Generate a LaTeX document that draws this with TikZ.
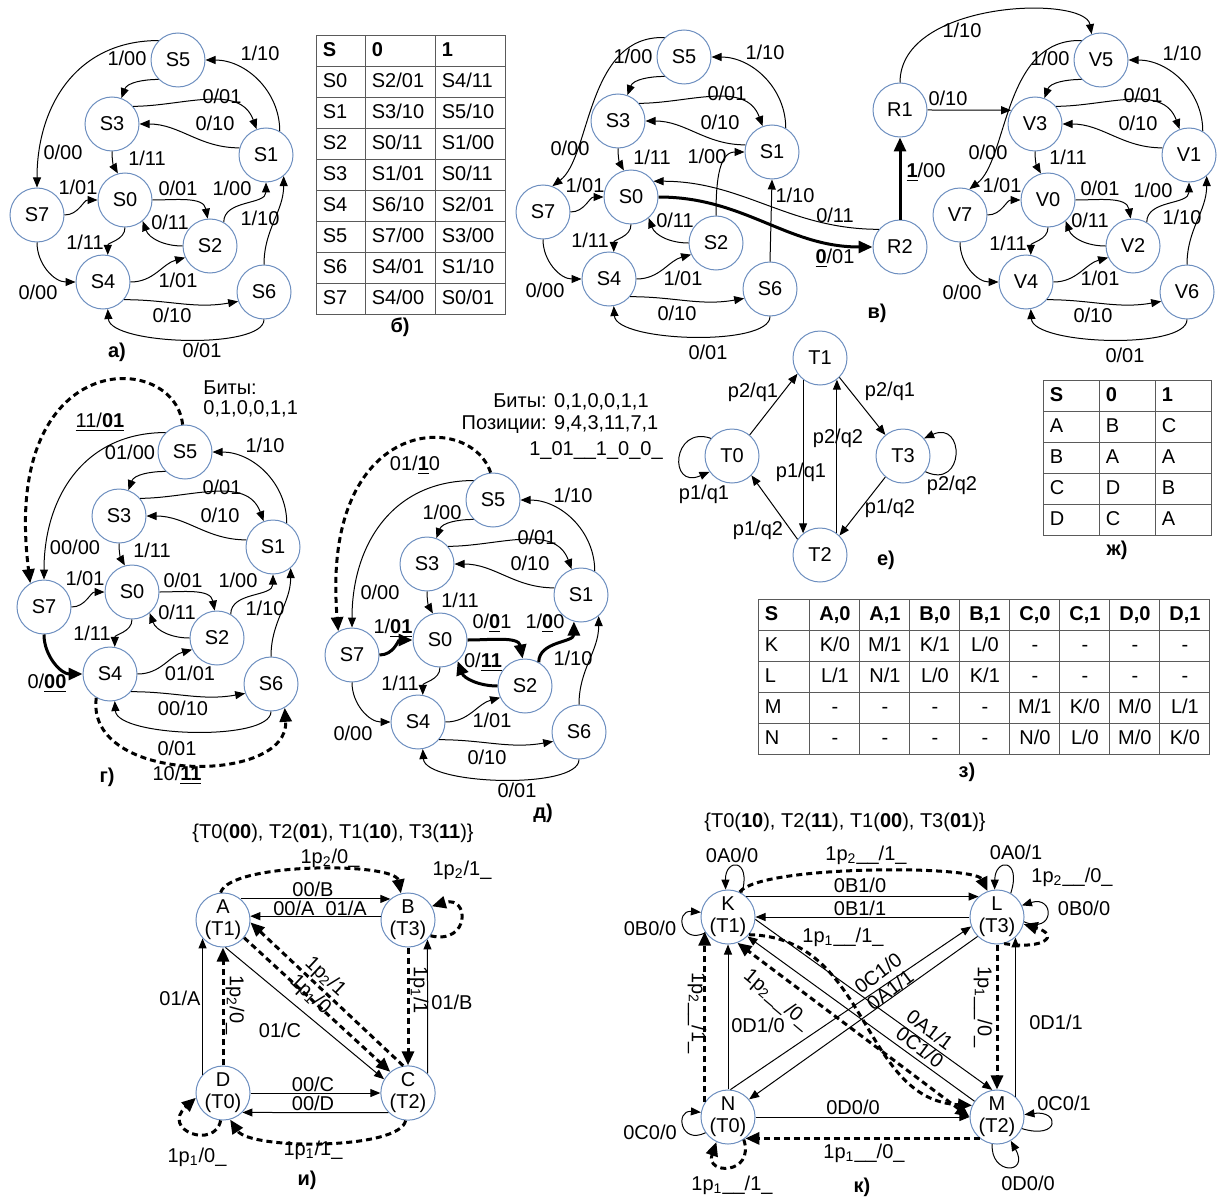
\documentclass[tikz,border=0pt]{standalone}
\usepackage{fontspec}
\setmainfont{Liberation Sans}
\usetikzlibrary{arrows.meta,matrix}
\definecolor{nodeblue}{RGB}{108,142,191}
\definecolor{tabline}{RGB}{90,90,90}
\newcommand{\bul}[1]{\underline{\textbf{#1}}}
\newcommand{\eightstates}[1]{%
  \node[st] (#10) at (0,0) {#10};
  \node[st] (#11) at (141,-45) {#11};
  \node[st] (#12) at (85,46) {#12};
  \node[st] (#13) at (-13,-76) {#13};
  \node[st] (#14) at (-22,82) {#14};
  \node[st] (#15) at (53,-140) {#15};
  \node[st] (#16) at (139,92) {#16};
  \node[st] (#17) at (-88,15) {#17};
}
\begin{document}
\begin{tikzpicture}[x=0.5pt,y=-0.5pt]
  \tikzstyle{st}=[circle, draw=nodeblue, line width=0.5pt, minimum size=27pt, inner sep=0pt]
  \tikzstyle{st2}=[st, align=center, font=\fontsize{10}{11}\selectfont]
  \tikzstyle{e}=[line width=0.5pt, -{Triangle[length=5pt,width=4pt]}]
  \tikzstyle{eb}=[line width=1.5pt, -{Triangle[length=7pt,width=6pt]}]
  \tikzstyle{ed}=[eb, dash pattern=on 3pt off 2pt]
  \tikzstyle{edd}=[ed, {Triangle[length=7pt,width=6pt]}-{Triangle[length=7pt,width=6pt]}]
  \tikzstyle{lb}=[inner sep=1pt]
  \tikzstyle{capt}=[font=\bfseries]
  \tikzstyle{tbl}=[matrix of nodes, inner sep=0pt, column sep=-0.5pt, row sep=-0.5pt,
    nodes={draw=tabline, line width=0.5pt, minimum height=15.5pt, text height=7pt, text depth=2pt,
      inner xsep=3pt, inner ysep=0pt, outer sep=0pt, align=left}]
  \useasboundingbox (0,0) rectangle (1218,1198);

  % a)
  \begin{scope}[shift={(125,200)}, name prefix=a-]
    \eightstates{S}
    \draw[e] (S5.135) to[out=180,in=90,looseness=1.1] (S7.north) node[lb] at (-62,-48) {0/00};
    \draw[e] (S5.225) to[out=180,in=70] (S3.70) node[lb] at (2,-142) {1/00};
    \draw[e] (S3.40) to[out=0,in=110] (S1.110) node[lb] at (97,-104) {0/01};
    \draw[e] (S1.165) to[out=180,in=0] (S3.east) node[lb] at (90,-77) {0/10};
    \draw[e] (S1.60) to[out=90,in=0] (S5.east) node[lb] at (135,-147) {1/10};
    \draw[e] (S3.south) to[out=270,in=120] (S0.105) node[lb] at (22,-42) {1/11};
    \draw[e] (S7.east) to[out=0,in=180] (S0.west) node[lb] at (-47,-13) {1/01};
    \draw[e] (S0.east) to[out=0,in=100] (S2.95) node[lb] at (53,-12) {0/01};
    \draw[e] (S2.west) to[out=180,in=-70] (S0.-50) node[lb] at (45,22) {0/11};
    \draw[e] (S2.60) to[out=90,in=270] (S1.south) node[lb] at (107,-12) {1/00};
    \draw[e] (S6.north) to[out=90,in=270] (S1.-50) node[lb] at (135,18) {1/10};
    \draw[e] (S0.south) to[out=270,in=90] (S4.80) node[lb] at (-40,42) {1/11};
    \draw[e] (S7.south) to[out=270,in=180] (S4.west) node[lb] at (-87,92) {0/00};
    \draw[e] (S4.east) to[out=0,in=195] (S2.205) node[lb] at (53,80) {1/01};
    \draw[e] (S4.-40) to[out=0,in=190] (S6.200) node[lb] at (47,115) {0/10};
    \draw[e] (S6.south) .. controls (139,150) and (-15,145) .. (S4.-80) node[lb] at (77,150) {0/01};
  \end{scope}
  \node[capt] (capA) at (117,352) {а)};

  % б)
  \matrix[tbl, anchor=north west,
    column 1/.style={nodes={text width=18.5pt}},
    column 2/.style={nodes={text width=29pt}},
    column 3/.style={nodes={text width=29pt}},
    row 1/.style={nodes={font=\bfseries}}] (tabB) at (316,35) {
    S & 0 & 1 \\
    S0 & S2/01 & S4/11 \\
    S1 & S3/10 & S5/10 \\
    S2 & S0/11 & S1/00 \\
    S3 & S1/01 & S0/11 \\
    S4 & S6/10 & S2/01 \\
    S5 & S7/00 & S3/00 \\
    S6 & S4/01 & S1/10 \\
    S7 & S4/00 & S0/01 \\
  };
  \node[capt] (capB) at (400,327) {б)};

  % в)
  \begin{scope}[shift={(631,197)}, name prefix=b-]
    \eightstates{S}
    \draw[e] (S5.135) .. controls (-45,-162) and (-40,-40) .. (S7.70) node[lb] at (-61,-49) {0/00};
    \draw[e] (S5.225) to[out=180,in=70] (S3.70) node[lb] at (2,-141) {1/00};
    \draw[e] (S3.40) to[out=0,in=110] (S1.110) node[lb] at (96,-104) {0/01};
    \draw[e] (S1.165) to[out=180,in=0] (S3.east) node[lb] at (89,-75) {0/10};
    \draw[e] (S1.60) to[out=90,in=0] (S5.east) node[lb] at (134,-145) {1/10};
    \draw[e] (S3.south) to[out=270,in=120] (S0.105) node[lb] at (21,-40) {1/11};
    \draw[e] (S7.east) to[out=0,in=180] (S0.west) node[lb] at (-46,-12) {1/01};
    \draw[e] (S2.west) to[out=180,in=-70] (S0.-50) node[lb] at (44,23) {0/11};
    \draw[e] (S2.north) to[out=90,in=180] (S1.west) node[lb] at (76,-41) {1/00};
    \draw[e] (S6.north) -- (S1.south) node[lb] at (164,-2) {1/10};
    \draw[e] (S0.south) to[out=270,in=90] (S4.80) node[lb] at (-41,43) {1/11};
    \draw[e] (S7.south) to[out=270,in=180] (S4.west) node[lb] at (-86,93) {0/00};
    \draw[e] (S4.east) to[out=0,in=195] (S2.205) node[lb] at (52,81) {1/01};
    \draw[e] (S4.-40) to[out=0,in=190] (S6.200) node[lb] at (46,116) {0/10};
    \draw[e] (S6.south) .. controls (139,150) and (-15,145) .. (S4.-80) node[lb] at (77,155) {0/01};
  \end{scope}
  \node[st] (R1) at (900,110) {R1};
  \node[st] (R2) at (900,247) {R2};
  \draw[eb] (b-S0.east) to[out=0,in=180] (R2.west) node[lb] at (835,258) {\bul{0}/01};
  \draw[e] (R2.140) to[out=180,in=0] (b-S0.35) node[lb] at (835,215) {0/11};
  \draw[eb] (R2.north) -- (R1.south) node[lb, anchor=west] at (903,172) {\bul{1}/00};
  \begin{scope}[shift={(1048,200)}]
    \eightstates{V}
    \draw[e] (V5.135) .. controls (-45,-162) and (-40,-40) .. (V7.70) node[lb] at (-60,-48) {0/00};
    \draw[e] (V5.225) to[out=180,in=70] (V3.70) node[lb] at (2,-142) {1/00};
    \draw[e] (V3.40) to[out=0,in=110] (V1.110) node[lb] at (95,-105) {0/01};
    \draw[e] (V1.165) to[out=180,in=0] (V3.east) node[lb] at (90,-77) {0/10};
    \draw[e] (V1.60) to[out=90,in=0] (V5.east) node[lb] at (134,-147) {1/10};
    \draw[e] (V3.south) to[out=270,in=120] (V0.105) node[lb] at (20,-43) {1/11};
    \draw[e] (V7.east) to[out=0,in=180] (V0.west) node[lb] at (-46,-15) {1/01};
    \draw[e] (V0.east) to[out=0,in=100] (V2.95) node[lb] at (52,-12) {0/01};
    \draw[e] (V2.west) to[out=180,in=-70] (V0.-50) node[lb] at (42,20) {0/11};
    \draw[e] (V2.60) to[out=90,in=270] (V1.south) node[lb] at (105,-10) {1/00};
    \draw[e] (V6.north) to[out=90,in=270] (V1.-50) node[lb] at (134,17) {1/10};
    \draw[e] (V0.south) to[out=270,in=90] (V4.80) node[lb] at (-40,43) {1/11};
    \draw[e] (V7.south) to[out=270,in=180] (V4.west) node[lb] at (-86,92) {0/00};
    \draw[e] (V4.east) to[out=0,in=195] (V2.205) node[lb] at (52,78) {1/01};
    \draw[e] (V4.-40) to[out=0,in=190] (V6.200) node[lb] at (45,115) {0/10};
    \draw[e] (V6.south) .. controls (139,150) and (-15,145) .. (V4.-80) node[lb] at (77,155) {0/01};
  \end{scope}
  \draw[e] (R1.north) .. controls (900,0) and (1085,-5) .. (V5.110) node[lb] at (962,30) {1/10};
  \draw[e] (R1.east) to[out=0,in=180] (V3.150) node[lb] at (948,98) {0/10};
  \node[capt] (capV) at (877,313) {в)};

  % г)
  \begin{scope}[shift={(132,592)}, name prefix=g-]
    \eightstates{S}
    \draw[e] (S5.135) to[out=180,in=90,looseness=1.1] (S7.north) node[lb] at (-57,-45) {00/00};
    \draw[e] (S5.225) to[out=180,in=70] (S3.70) node[lb] at (-2,-140) {01/00};
    \draw[e] (S3.40) to[out=0,in=110] (S1.110) node[lb] at (90,-105) {0/01};
    \draw[e] (S1.165) to[out=180,in=0] (S3.east) node[lb] at (88,-77) {0/10};
    \draw[e] (S1.60) to[out=90,in=0] (S5.east) node[lb] at (133,-147) {1/10};
    \draw[e] (S3.south) to[out=270,in=120] (S0.105) node[lb] at (20,-42) {1/11};
    \draw[e] (S7.east) to[out=0,in=180] (S0.west) node[lb] at (-47,-14) {1/01};
    \draw[e] (S0.east) to[out=0,in=100] (S2.95) node[lb] at (51,-12) {0/01};
    \draw[e] (S2.west) to[out=180,in=-70] (S0.-50) node[lb] at (45,20) {0/11};
    \draw[e] (S2.60) to[out=90,in=270] (S1.south) node[lb] at (106,-12) {1/00};
    \draw[e] (S6.north) to[out=90,in=270] (S1.-50) node[lb] at (133,16) {1/10};
    \draw[e] (S0.south) to[out=270,in=90] (S4.80) node[lb] at (-40,41) {1/11};
    \draw[eb] (S7.south) to[out=270,in=180] (S4.west) node[lb] at (-85,91) {0/\bul{00}};
    \draw[e] (S4.east) to[out=0,in=195] (S2.205) node[lb] at (58,81) {01/01};
    \draw[e] (S4.-40) to[out=0,in=190] (S6.200) node[lb] at (51,116) {00/10};
    \draw[e] (S6.south) .. controls (139,150) and (-15,145) .. (S4.-80) node[lb] at (45,156) {0/01};
    \draw[ed] (S5.95) .. controls (43,-242) and (-132,-247) .. (S7.120) node[lb] at (-32,-170) {\underline{11/\textbf{01}}};
    \draw[ed] (S4.240) .. controls (-47,193) and (158,193) .. (S6.-60) node[lb] at (45,183) {10/\bul{11}};
  \end{scope}
  \node[align=left, anchor=north west, inner sep=0pt] (bitsG) at (203,380) {Биты:\\[-2pt]0,1,0,0,1,1};
  \node[capt] (capG) at (107,777) {г)};

  % д)
  \begin{scope}[shift={(440,640)}, name prefix=d-]
    \eightstates{S}
    \draw[e] (S5.135) to[out=180,in=90,looseness=1.1] (S7.north) node[lb] at (-60,-48) {0/00};
    \draw[e] (S5.225) to[out=180,in=70] (S3.70) node[lb] at (2,-128) {1/00};
    \draw[e] (S3.40) to[out=0,in=110] (S1.110) node[lb] at (97,-103) {0/01};
    \draw[e] (S1.165) to[out=180,in=0] (S3.east) node[lb] at (90,-77) {0/10};
    \draw[e] (S1.60) to[out=90,in=0] (S5.east) node[lb] at (133,-145) {1/10};
    \draw[e] (S3.south) to[out=270,in=120] (S0.105) node[lb] at (20,-40) {1/11};
    \draw[eb] (S7.east) to[out=0,in=180] (S0.west) node[lb] at (-47,-12) {1/\bul{01}};
    \draw[eb] (S0.east) to[out=0,in=100] (S2.95) node[lb] at (52,-17) {0/\bul{0}1};
    \draw[eb] (S2.west) to[out=180,in=-70] (S0.-50) node[lb] at (43,22) {0/\bul{11}};
    \draw[eb] (S2.60) to[out=90,in=270] (S1.-105) node[lb] at (105,-17) {1/\bul{0}0};
    \draw[e] (S6.north) to[out=90,in=270] (S1.-50) node[lb] at (133,18) {1/10};
    \draw[e] (S0.south) to[out=270,in=90] (S4.80) node[lb] at (-40,43) {1/11};
    \draw[e] (S7.south) to[out=270,in=180] (S4.west) node[lb] at (-87,93) {0/00};
    \draw[e] (S4.east) to[out=0,in=195] (S2.205) node[lb] at (52,80) {1/01};
    \draw[e] (S4.-40) to[out=0,in=190] (S6.200) node[lb] at (47,117) {0/10};
    \draw[e] (S6.south) .. controls (139,150) and (-15,145) .. (S4.-80) node[lb] at (77,150) {0/01};
    \draw[ed] (S5.95) .. controls (30,-230) and (-120,-225) .. (S7.120) node[lb] at (-25,-175) {01/\bul{1}0};
  \end{scope}
  \node (bitsD) at (571,402) {Биты: 0,1,0,0,1,1};
  \node (posD) at (560,425) {Позиции: 9,4,3,11,7,1};
  \node (codeD) at (596,450) {1\_01\_\_1\_0\_0\_};
  \node[capt] (capD) at (543,813) {д)};

  % е)
  \node[st] (T1) at (820,358) {T1};
  \node[st] (T0) at (732,456) {T0};
  \node[st] (T3) at (903,456) {T3};
  \node[st] (T2) at (820,555) {T2};
  \draw[e] (T0.50) -- (T1.215) node[lb] at (753,392) {p2/q1};
  \draw[e] (T1.232) -- (T2.128) node[lb] at (801,472) {p1/q1};
  \draw[e] (T2.52) -- (T1.-52) node[lb] at (838,438) {p2/q2};
  \draw[e] (T1.-45) -- (T3.130) node[lb] at (890,391) {p2/q1};
  \draw[e] (T3.230) -- (T2.45) node[lb] at (890,508) {p1/q2};
  \draw[e] (T2.145) -- (T0.-45) node[lb] at (758,530) {p1/q2};
  \draw[e] (T0.140) .. controls (672,425) and (668,490) .. (T0.215) node[lb] at (704,494) {p1/q1};
  \draw[e] (T3.-35) .. controls (965,490) and (965,420) .. (T3.40) node[lb] at (952,485) {p2/q2};
  \node[capt] (capE) at (886,560) {е)};

  % ж)
  \matrix[tbl, anchor=north west,
    nodes={text width=22pt},
    row 1/.style={nodes={font=\bfseries}}] (tabZh) at (1043,380) {
    S & 0 & 1 \\
    A & B & C \\
    B & A & A \\
    C & D & B \\
    D & C & A \\
  };
  \node[capt] (capZh) at (1117,550) {ж)};

  % з)
  \matrix[tbl, anchor=north west,
    nodes={text width=19pt, align=center},
    column 1/.style={nodes={text width=19.5pt, align=left}},
    row 1/.style={nodes={font=\bfseries}}] (tabZ) at (758,599) {
    S & A,0 & A,1 & B,0 & B,1 & C,0 & C,1 & D,0 & D,1 \\
    K & K/0 & M/1 & K/1 & L/0 & - & - & - & - \\
    L & L/1 & N/1 & L/0 & K/1 & - & - & - & - \\
    M & - & - & - & - & M/1 & K/0 & M/0 & L/1 \\
    N & - & - & - & - & N/0 & L/0 & M/0 & K/0 \\
  };
  \node[capt] (capZ) at (967,772) {з)};

  % и)
  \node[st2] (A) at (223,920) {A\\(T1)};
  \node[st2] (B) at (408,920) {B\\(T3)};
  \node[st2] (C) at (408,1093) {C\\(T2)};
  \node[st2] (D) at (223,1093) {D\\(T0)};
  \node (titleI) at (333,833) {\{T0(\textbf{00}), T2(\textbf{01}), T1(\textbf{10}), T3(\textbf{11})\}};
  \draw[e] (A.50) -- (B.130) node[lb] at (313,889) {00/B};
  \draw[e] (B.172) -- (A.8) node[lb] at (320,908) {00/A\ \ 01/A};
  \draw[e] (D.138) -- (A.222) node[lb] at (180,998) {01/A};
  \draw[e] (A.-85) -- (C.150) node[lb] at (280,1030) {01/C};
  \draw[e] (C.45) -- (B.-45) node[lb] at (452,1002) {01/B};
  \draw[e] (D.east) -- (C.west) node[lb] at (313,1084) {00/C};
  \draw[e] (C.-135) -- (D.-45) node[lb] at (313,1103) {00/D};
  \draw[ed] (A.95) .. controls (230,862) and (395,862) .. (B.105) node[lb] at (330,858) {1p\textsubscript{2}/0\_};
  \draw[ed] (B.-35) .. controls (470,945) and (470,895) .. (B.30) node[lb] at (462,870) {1p\textsubscript{2}/1\_};
  \draw[ed] (B.south) -- (C.north) node[lb, rotate=-90] at (419,990) {1p\textsubscript{1}/1};
  \draw[ed] (A.-40) -- (C.130) node[lb, rotate=-43] at (310,995) {1p\textsubscript{1}/0};
  \draw[ed] (C.100) -- (A.-5) node[lb, rotate=-43] at (325,977) {1p\textsubscript{2}/1};
  \draw[ed] (D.north) -- (A.south) node[lb, rotate=-90] at (235,1005) {1p\textsubscript{2}/0\_};
  \draw[ed] (D.-95) .. controls (215,1150) and (160,1130) .. (D.190) node[lb] at (197,1157) {1p\textsubscript{1}/0\_};
  \draw[ed] (C.-95) .. controls (400,1150) and (250,1150) .. (D.-75) node[lb] at (313,1150) {1p\textsubscript{1}/1\_};
  \node[capt] (capI) at (307,1180) {и)};

  % к)
  \node[st2] (K) at (728,917) {K\\(T1)};
  \node[st2] (L) at (997,917) {L\\(T3)};
  \node[st2] (M) at (997,1117) {M\\(T2)};
  \node[st2] (N) at (728,1117) {N\\(T0)};
  \node (titleK) at (845,822) {\{T0(\textbf{10}), T2(\textbf{11}), T1(\textbf{00}), T3(\textbf{01})\}};
  \draw[e] (K.48) -- (L.132) node[lb] at (860,885) {0B1/0};
  \draw[e] (L.west) -- (K.east) node[lb] at (860,908) {0B1/1};
  \draw[e] (K.60) .. controls (752,858) and (725,858) .. (K.95) node[lb] at (732,855) {0A0/0};
  \draw[e] (K.215) .. controls (680,945) and (675,910) .. (K.170) node[lb] at (650,928) {0B0/0};
  \draw[e] (L.60) .. controls (1022,858) and (995,858) .. (L.95) node[lb] at (1016,852) {0A0/1};
  \draw[e] (L.-10) .. controls (1055,935) and (1055,895) .. (L.25) node[lb] at (1084,908) {0B0/0};
  \draw[e] (N.215) .. controls (680,1145) and (675,1110) .. (N.170) node[lb] at (650,1132) {0C0/0};
  \draw[e] (M.-25) .. controls (1060,1140) and (1060,1110) .. (M.5) node[lb] at (1064,1103) {0C0/1};
  \draw[e] (M.-100) .. controls (990,1175) and (1030,1175) .. (M.-60) node[lb] at (1028,1183) {0D0/0};
  \draw[e] (N.north) -- (K.south) node[lb] at (758,1025) {0D1/0};
  \draw[e] (M.48) -- (L.-48) node[lb] at (1056,1022) {0D1/1};
  \draw[e] (N.east) -- (M.west) node[lb] at (853,1107) {0D0/0};
  \draw[e] (K.-5) -- (M.100) node[lb, rotate=-37] at (930,1030) {0A1/1};
  \draw[e] (M.145) -- (K.-45) node[lb, rotate=-37] at (920,1047) {0C1/0};
  \draw[e] (N.85) -- (L.200) node[lb, rotate=37] at (878,973) {0C1/0};
  \draw[e] (L.-135) -- (N.40) node[lb, rotate=37] at (890,990) {0A1/1};
  \draw[ed] (K.65) .. controls (760,865) and (975,865) .. (L.110) node[lb] at (866,855) {1p\textsubscript{2}\_\_/1\_};
  \draw[ed] (L.-75) .. controls (1045,950) and (1060,935) .. (L.-15) node[lb] at (1072,877) {1p\textsubscript{2}\_\_/0\_};
  \draw[ed] (L.south) -- (M.north) node[lb, rotate=-90] at (983,1007) {1p\textsubscript{1}\_\_/0\_};
  \draw[ed] (N.148) -- (K.212) node[lb, rotate=-90] at (697,1013) {1p\textsubscript{2}\_\_/1\_};
  \draw[ed] (M.-129) -- (N.-51) node[lb] at (864,1153) {1p\textsubscript{1}\_\_/0\_};
  \draw[ed] (N.-55) .. controls (755,1175) and (705,1175) .. (N.-115) node[lb] at (732,1185) {1p\textsubscript{1}\_\_/1\_};
  \draw[ed] (K.-40) .. controls (870,937) and (860,1100) .. (M.155) node[lb] at (843,937) {1p\textsubscript{1}\_\_/1\_};
  \draw[edd] (M.180) -- (K.-70) node[lb, rotate=-40] at (777,1000) {1p\textsubscript{2}\_\_/0\_};
  \node[capt] (capK) at (862,1187) {к)};
\end{tikzpicture}
\end{document}
